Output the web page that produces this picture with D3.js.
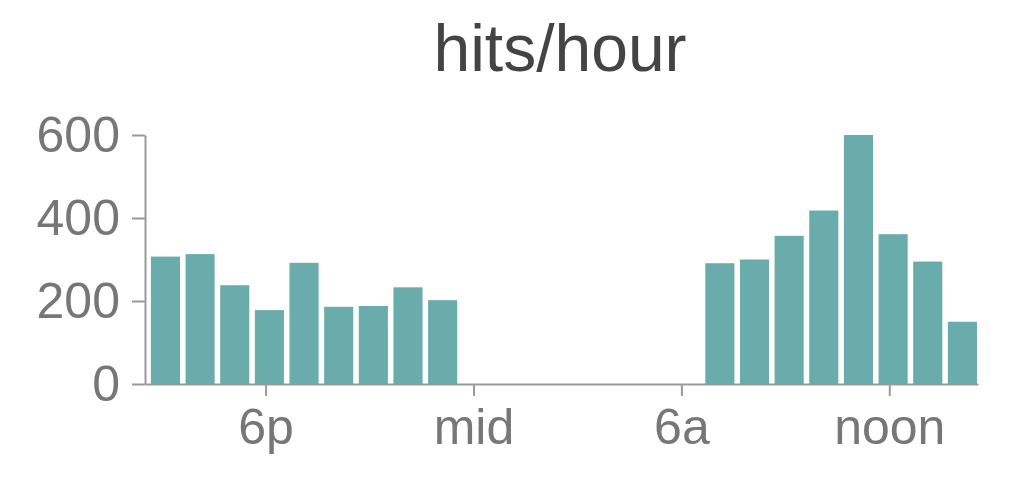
<!DOCTYPE html>
<html>
<head>
<meta charset="utf-8">
<script src="https://cdn.jsdelivr.net/npm/d3@7"></script>
<style>
  html, body { margin: 0; padding: 0; background: #fff; }
  svg { display: block; }
</style>
</head>
<body>
<svg id="chart" width="1023" height="497"></svg>
<script>
// hours: 15 = 3pm, 24 = midnight, 36 = noon (next day), 38 = 2pm
const hours = [15,16,17,18,19,20,21,22,23,24,25,26,27,28,29,30,31,32,33,34,35,36,37,38];
const hits  = [307,313,238,178,292,186,188,233,202,0,0,0,0,0,0,0,291,300,357,418,600,361,295,150];
const yTicks = [0, 200, 400, 600];
const xTickHours = [18, 24, 30, 36];
const xTickLabels = ["6p", "mid", "6a", "noon"];
const title = "hits/hour";

const svg = d3.select("#chart");
const font = "'Liberation Sans', Arial, Helvetica, sans-serif";

const x = d3.scaleLinear().domain([14.52, 38.56]).range([145, 978]);
const y = d3.scaleLinear().domain([0, 600]).range([384, 135]);

// bars
svg.append("g").selectAll("rect")
  .data(hours.map((h, i) => ({h, v: hits[i]})))
  .join("rect")
  .attr("x", d => x(d.h - 0.31))
  .attr("width", d => x(d.h + 0.53) - x(d.h - 0.31))
  .attr("y", d => y(d.v))
  .attr("height", d => y(0) - y(d.v))
  .attr("fill", "#6aabab");

// y axis
const yAxis = svg.append("g")
  .attr("transform", `translate(${x.range()[0]},0)`)
  .call(d3.axisLeft(y).tickValues(yTicks).tickSize(13).tickSizeOuter(0).tickPadding(12));

// x axis
const labelMap = new Map(xTickHours.map((h, i) => [h, xTickLabels[i]]));
const xAxis = svg.append("g")
  .attr("transform", `translate(0,${y(0)})`)
  .call(d3.axisBottom(x).tickValues(xTickHours).tickFormat(d => labelMap.get(d))
        .tickSize(12).tickSizeOuter(0).tickPadding(12));

[yAxis, xAxis].forEach(g => {
  g.selectAll("path.domain").attr("stroke", "#999").attr("stroke-width", 2);
  g.selectAll(".tick line").attr("stroke", "#999").attr("stroke-width", 2);
  g.selectAll(".tick text")
    .attr("fill", "#777")
    .style("font-family", font)
    .style("font-size", "50px");
});

// title
svg.append("text")
  .attr("x", 560)
  .attr("y", 71)
  .attr("text-anchor", "middle")
  .attr("fill", "#444")
  .style("font-family", font)
  .style("font-size", "66px")
  .text(title);
</script>
</body>
</html>
